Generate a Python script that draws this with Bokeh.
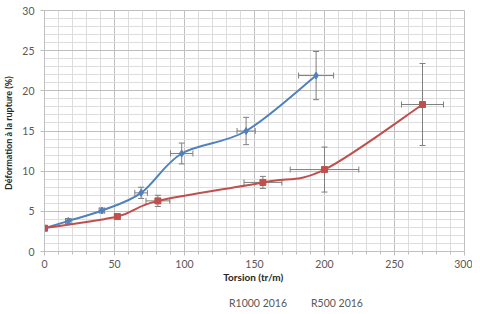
from bokeh.plotting import figure
from bokeh.layouts import column
from bokeh.models import (ColumnDataSource, Whisker, TeeHead, Legend, LegendItem,
                          Range1d, FixedTicker)
from bokeh.embed import file_html
from bokeh.resources import INLINE

# R1000 2016 data
r1000_x = [0, 17, 41, 69, 98, 144, 194]
r1000_y = [2.9, 3.8, 5.1, 7.3, 12.2, 15.0, 21.9]
r1000_xerr = [0, 2, 2, 4.5, 8, 6.5, 12.5]
r1000_yerr = [0.2, 0.3, 0.3, 0.7, 1.3, 1.7, 3.0]

# R500 2016 data
r500_x = [0, 52, 81, 156, 200, 270]
r500_y = [2.9, 4.35, 6.3, 8.6, 10.2, 18.3]
r500_xerr = [0, 2, 8.5, 13.5, 24.5, 15]
r500_yerr = [0.3, 0.2, 0.7, 0.75, 2.8, 5.1]

x_ticks = [0, 50, 100, 150, 200, 250, 300]
y_ticks = [0, 5, 10, 15, 20, 25, 30]
series_names = ["R1000 2016", "R500 2016"]

BLUE = "#4F81BD"
RED = "#C0504D"
ERR = "#7F7F7F"
TXT = "#595959"
FONT = "Lato"


def bezier_cps(xs, ys, t=1.0):
    n = len(xs)
    out = dict(x0=[], y0=[], x1=[], y1=[], cx0=[], cy0=[], cx1=[], cy1=[])
    for i in range(n - 1):
        im = max(i - 1, 0)
        ip = min(i + 2, n - 1)
        out["x0"].append(xs[i]); out["y0"].append(ys[i])
        out["x1"].append(xs[i + 1]); out["y1"].append(ys[i + 1])
        out["cx0"].append(xs[i] + (xs[i + 1] - xs[im]) / 6 * t)
        out["cy0"].append(ys[i] + (ys[i + 1] - ys[im]) / 6 * t)
        out["cx1"].append(xs[i + 1] - (xs[ip] - xs[i]) / 6 * t)
        out["cy1"].append(ys[i + 1] - (ys[ip] - ys[i]) / 6 * t)
    return out


chart = figure(width=472, height=290, output_backend="svg", toolbar_location=None,
               x_range=Range1d(0, 300), y_range=Range1d(0, 30),
               min_border_left=43, min_border_right=8, min_border_top=10, min_border_bottom=39)

chart.outline_line_color = "#BFBFBF"
chart.background_fill_color = "white"
chart.border_fill_color = "white"

for ax in (chart.xaxis[0], chart.yaxis[0]):
    ax.axis_line_color = "#BFBFBF"
    ax.major_tick_line_color = "#BFBFBF"
    ax.minor_tick_line_color = "#BFBFBF"
    ax.major_tick_in = 0
    ax.major_tick_out = 4
    ax.minor_tick_in = 0
    ax.major_label_text_font = FONT
    ax.major_label_text_font_size = "10.5px"
    ax.major_label_text_color = TXT
    ax.axis_label_text_font = FONT
    ax.axis_label_text_font_style = "bold"
    ax.axis_label_text_color = "#262626"

chart.xaxis.ticker = FixedTicker(ticks=x_ticks, minor_ticks=list(range(0, 301, 10)))
chart.yaxis.ticker = FixedTicker(ticks=y_ticks, minor_ticks=list(range(0, 31, 1)))
chart.xaxis.minor_tick_out = 3
chart.yaxis.minor_tick_out = 0
chart.xaxis.axis_label = "Torsion  (tr/m)"
chart.yaxis.axis_label = "Déformation  à la rupture  (%)"
chart.xaxis.axis_label_text_font_size = "10px"
chart.yaxis.axis_label_text_font_size = "9px"
chart.xaxis.major_label_standoff = 4
chart.yaxis.major_label_standoff = 6
chart.xaxis.axis_label_standoff = 0
chart.yaxis.axis_label_standoff = 5

chart.xgrid.grid_line_color = "#BFBFBF"
chart.ygrid.grid_line_color = "#BFBFBF"
chart.xgrid.minor_grid_line_color = "#DDDDDD"
chart.ygrid.minor_grid_line_color = "#DDDDDD"


def add_err(xs, ys, xe, ye):
    src = ColumnDataSource(dict(x=xs, y=ys,
                                yl=[y - e for y, e in zip(ys, ye)], yu=[y + e for y, e in zip(ys, ye)],
                                xl=[x - e for x, e in zip(xs, xe)], xu=[x + e for x, e in zip(xs, xe)]))
    wy = Whisker(source=src, base="x", lower="yl", upper="yu", dimension="height",
                 line_color=ERR, line_width=1,
                 upper_head=TeeHead(size=6, line_color=ERR), lower_head=TeeHead(size=6, line_color=ERR))
    wx = Whisker(source=src, base="y", lower="xl", upper="xu", dimension="width",
                 line_color=ERR, line_width=1,
                 upper_head=TeeHead(size=6, line_color=ERR), lower_head=TeeHead(size=6, line_color=ERR))
    chart.add_layout(wy)
    chart.add_layout(wx)


add_err(r1000_x, r1000_y, r1000_xerr, r1000_yerr)
add_err(r500_x, r500_y, r500_xerr, r500_yerr)

b1 = bezier_cps(r1000_x, r1000_y)
b2 = bezier_cps(r500_x, r500_y)
chart.bezier(source=ColumnDataSource(b1), x0="x0", y0="y0", x1="x1", y1="y1",
             cx0="cx0", cy0="cy0", cx1="cx1", cy1="cy1", line_color=BLUE, line_width=2)
chart.bezier(source=ColumnDataSource(b2), x0="x0", y0="y0", x1="x1", y1="y1",
             cx0="cx0", cy0="cy0", cx1="cx1", cy1="cy1", line_color=RED, line_width=2)

chart.scatter(r1000_x, r1000_y, marker="diamond", size=7, color=BLUE)
chart.scatter(r500_x, r500_y, marker="square", size=6, color=RED)

# legend strip below the chart
leg = figure(width=472, height=22, output_backend="svg", toolbar_location=None,
             x_range=Range1d(0, 1), y_range=Range1d(0, 1),
             x_axis_location=None, y_axis_location=None,
             min_border_left=0, min_border_right=0, min_border_top=0, min_border_bottom=0)
leg.outline_line_color = None
leg.grid.visible = False
leg.background_fill_color = "white"
leg.border_fill_color = "white"

ll1 = leg.line(x=[], y=[], line_color=BLUE, line_width=2)
lm1 = leg.scatter(x=[], y=[], marker="diamond", size=6, color=BLUE)
ll2 = leg.line(x=[], y=[], line_color=RED, line_width=2)
lm2 = leg.scatter(x=[], y=[], marker="square", size=5, color=RED)

legend = Legend(items=[LegendItem(label=series_names[0], renderers=[ll1, lm1]),
                       LegendItem(label=series_names[1], renderers=[ll2, lm2])],
                orientation="horizontal", location=(171, 3),
                border_line_color=None, background_fill_alpha=0,
                label_text_font=FONT, label_text_font_size="10.5px", label_text_color=TXT,
                glyph_width=12, glyph_height=10, spacing=10, padding=2, margin=0,
                label_standoff=2, label_height=11)
leg.add_layout(legend, "center")

p = column(chart, leg, spacing=0)

open("out.html", "w").write(file_html(p, INLINE))
